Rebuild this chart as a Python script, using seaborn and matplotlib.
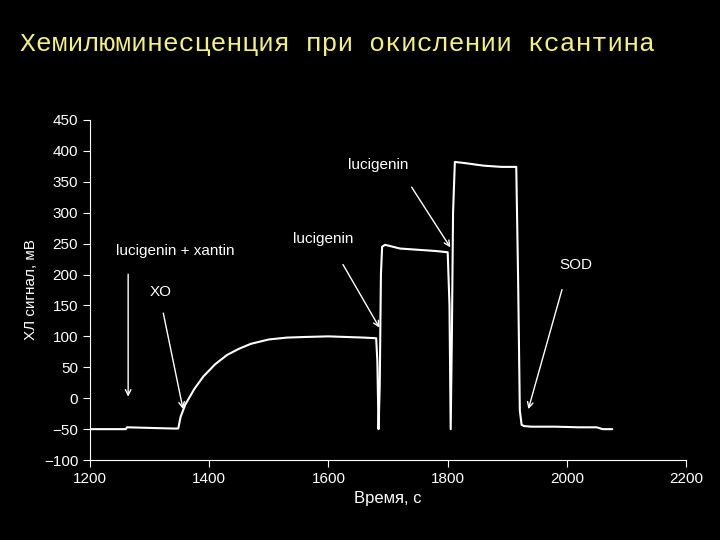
import numpy as np
import pandas as pd
import matplotlib
matplotlib.use("Agg")
import matplotlib.pyplot as plt
import seaborn as sns

# ---------------- Data ----------------
time_s = [1200, 1260, 1262, 1300, 1340, 1348, 1352, 1360, 1375, 1390, 1410, 1430, 1450,
          1470, 1500, 1530, 1560, 1600, 1630, 1660, 1680, 1682, 1684, 1686, 1688, 1690,
          1695, 1720, 1750, 1780, 1800, 1803, 1805, 1807, 1809, 1812, 1830, 1860, 1890,
          1915, 1918, 1921, 1924, 1928, 1940, 1980, 2020, 2050, 2060, 2076]
signal_mv = [-50, -50, -47, -48, -49, -49, -30, -10, 15, 35, 55, 70, 80,
             88, 95, 98, 99, 100, 99, 98, 97, 60, -50, 20, 200, 245,
             248, 242, 240, 238, 236, 150, -50, 100, 300, 382, 380, 376, 374,
             374, 200, -20, -43, -45, -46, -46, -47, -47, -50, -50]

# label, text position, arrow start, arrow end
annotations = [
    ("lucigenin + xantin", (1244, 227), (1264, 205), (1264, -2)),
    ("XO", (1300, 160), (1322, 142), (1357, -22)),
    ("lucigenin", (1540, 246), (1622, 220), (1688, 110)),
    ("lucigenin", (1633, 366), (1737, 345), (1807, 240)),
    ("SOD", (1988, 204), (1993, 180), (1934, -22)),
]

df = pd.DataFrame({"t": time_s, "s": signal_mv})

# ---------------- Plot ----------------
sns.set_style("dark")
plt.rcParams["font.family"] = ["Liberation Sans", "DejaVu Sans"]
fig = plt.figure(figsize=(7.2, 5.4), dpi=100, facecolor="black")
ax = fig.add_axes([0.125, 0.148, 0.828, 0.63], facecolor="black")

sns.lineplot(data=df, x="t", y="s", ax=ax, color="white", linewidth=1.5)

for text, tpos, start, end in annotations:
    ax.text(tpos[0], tpos[1], text, color="white", fontsize=11, va="bottom")
    ax.annotate("", xy=end, xytext=start,
                arrowprops=dict(arrowstyle="->", color="white", lw=1))

ax.set_xlim(1200, 2200)
ax.set_ylim(-100, 450)
ax.set_xticks(range(1200, 2201, 200))
ax.set_yticks(range(-100, 451, 50))
ax.grid(False)
for side in ["top", "right"]:
    ax.spines[side].set_visible(False)
for side in ["left", "bottom"]:
    ax.spines[side].set_color("white")
ax.tick_params(colors="white", labelsize=11, direction="out", length=5, left=True, bottom=True)
ax.set_xlabel("Время, с", color="white", fontsize=12)
ax.set_ylabel("ХЛ сигнал, мВ", color="white", fontsize=11)

fig.text(0.028, 0.905, "Хемилюминесценция при окислении ксантина",
         color="#f5f07a", fontsize=19, family=["Liberation Mono", "DejaVu Sans Mono"])

fig.savefig("out.png", dpi=100, facecolor="black")
